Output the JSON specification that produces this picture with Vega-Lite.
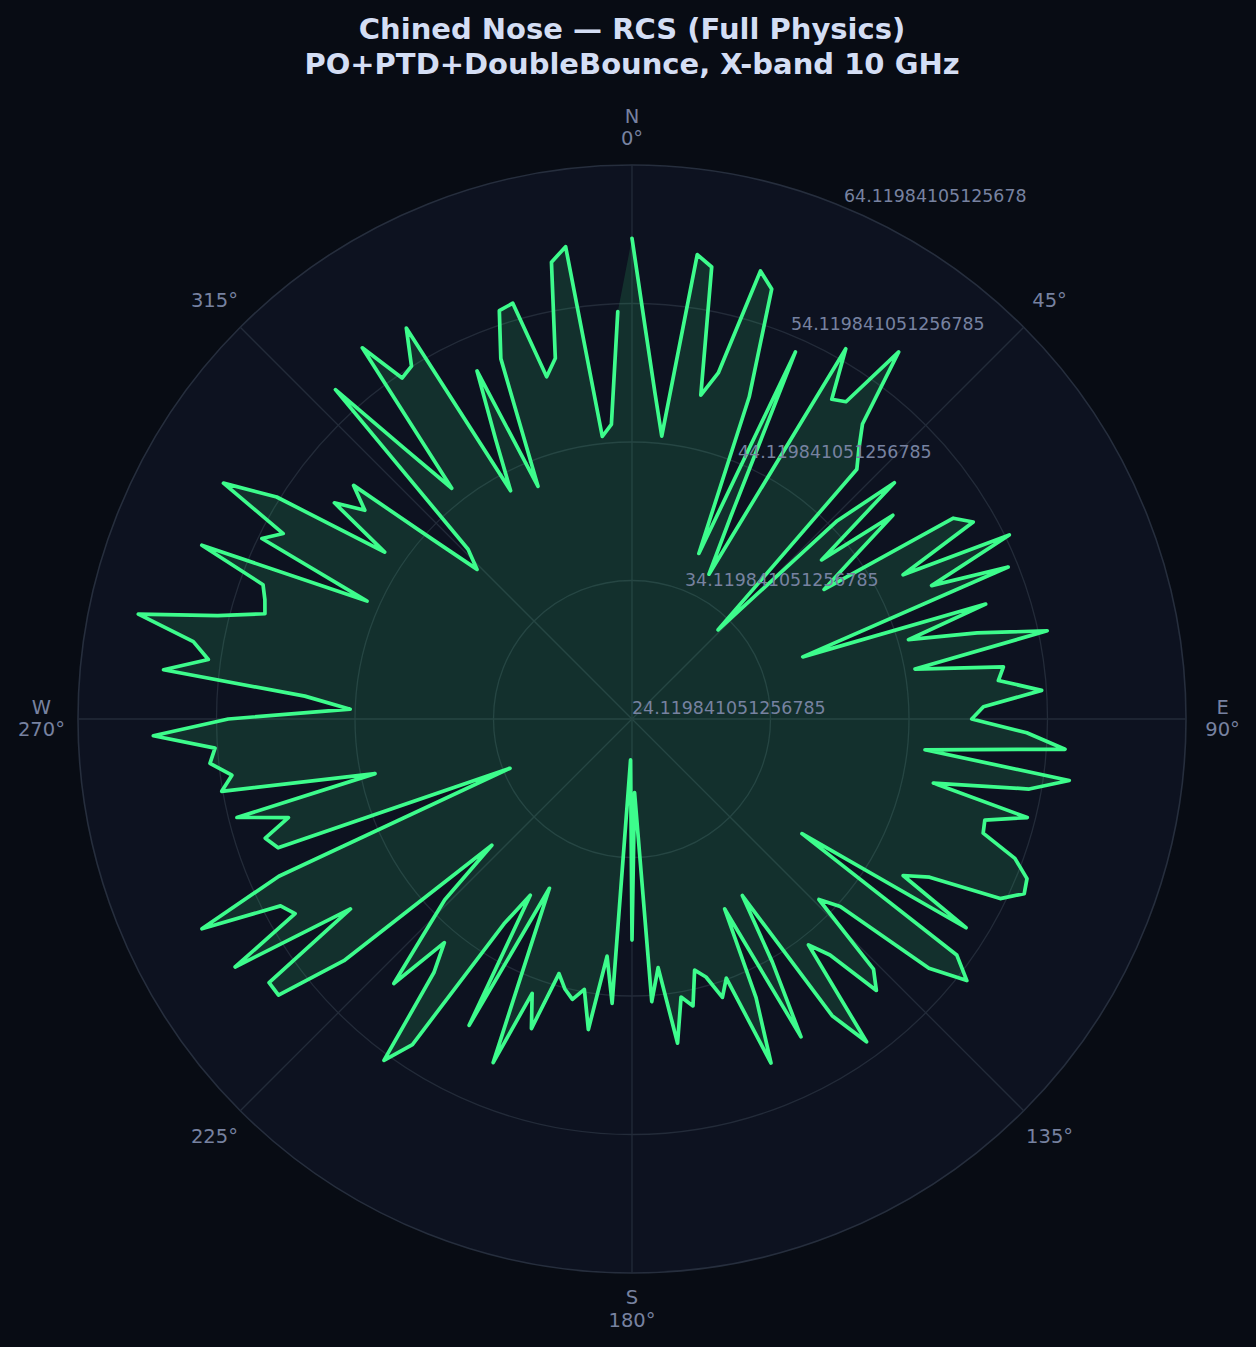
{
  "$schema": "https://vega.github.io/schema/vega-lite/v6.json",
  "description": "Chined Nose RCS polar plot, X-band 10 GHz",
  "width": 1108,
  "height": 1108,
  "autosize": "none",
  "padding": {"left": 78, "top": 165, "right": 70, "bottom": 74},
  "background": "#080c14",
  "config": {"view": {"stroke": null}, "font": "DejaVu Sans"},
  "title": {
    "text": ["Chined Nose — RCS (Full Physics)", "PO+PTD+DoubleBounce, X-band 10 GHz"],
    "font": "DejaVu Sans",
    "fontSize": 29,
    "fontWeight": "bold",
    "color": "#d4def4",
    "lineHeight": 35,
    "anchor": "middle",
    "frame": "group",
    "offset": 27
  },
  "datasets": {
    "rcs": [
      {"a": 0, "v": 58.83}, {"a": 2, "v": 52.21}, {"a": 4, "v": 47.77}, {"a": 6, "v": 44.66},
      {"a": 8, "v": 57.98}, {"a": 10, "v": 57.26}, {"a": 12, "v": 48.02}, {"a": 14, "v": 49.87},
      {"a": 16, "v": 57.77}, {"a": 18, "v": 56.76}, {"a": 20, "v": 48.86}, {"a": 22, "v": 37.01},
      {"a": 24, "v": 53.13}, {"a": 26, "v": 40.37}, {"a": 28, "v": 35.96}, {"a": 30, "v": 54.99},
      {"a": 32, "v": 51.34}, {"a": 34, "v": 51.75}, {"a": 36, "v": 56.88}, {"a": 38, "v": 51.15},
      {"a": 40, "v": 49.61}, {"a": 42, "v": 48.38}, {"a": 44, "v": 33.07}, {"a": 46, "v": 44.73},
      {"a": 48, "v": 49.61}, {"a": 50, "v": 41.99}, {"a": 52, "v": 48.02}, {"a": 54, "v": 43.72},
      {"a": 56, "v": 40.85}, {"a": 58, "v": 51.48}, {"a": 60, "v": 52.57}, {"a": 62, "v": 46.29},
      {"a": 64, "v": 54.43}, {"a": 66, "v": 47.80}, {"a": 68, "v": 53.41}, {"a": 70, "v": 37.24},
      {"a": 72, "v": 50.97}, {"a": 74, "v": 44.89}, {"a": 76, "v": 49.80}, {"a": 78, "v": 54.77},
      {"a": 80, "v": 44.87}, {"a": 82, "v": 51.20}, {"a": 84, "v": 50.72}, {"a": 86, "v": 53.77},
      {"a": 88, "v": 49.51}, {"a": 90, "v": 48.65}, {"a": 92, "v": 52.64}, {"a": 94, "v": 55.46},
      {"a": 96, "v": 45.39}, {"a": 98, "v": 56.00}, {"a": 100, "v": 53.24}, {"a": 102, "v": 46.36},
      {"a": 104, "v": 53.53}, {"a": 106, "v": 50.62}, {"a": 108, "v": 50.78}, {"a": 110, "v": 53.54},
      {"a": 112, "v": 54.88}, {"a": 114, "v": 55.12}, {"a": 116, "v": 53.70}, {"a": 118, "v": 48.45},
      {"a": 120, "v": 46.72}, {"a": 122, "v": 52.56}, {"a": 124, "v": 38.92}, {"a": 126, "v": 53.10},
      {"a": 128, "v": 54.80}, {"a": 130, "v": 52.11}, {"a": 132, "v": 44.35}, {"a": 134, "v": 42.88},
      {"a": 136, "v": 49.22}, {"a": 138, "v": 50.49}, {"a": 140, "v": 46.36}, {"a": 142, "v": 44.81},
      {"a": 144, "v": 52.93}, {"a": 146, "v": 49.96}, {"a": 148, "v": 39.15}, {"a": 150, "v": 44.39},
      {"a": 152, "v": 50.11}, {"a": 154, "v": 39.38}, {"a": 156, "v": 46.14}, {"a": 158, "v": 50.91},
      {"a": 160, "v": 44.03}, {"a": 162, "v": 45.25}, {"a": 164, "v": 43.50}, {"a": 166, "v": 42.81},
      {"a": 168, "v": 45.30}, {"a": 170, "v": 44.51}, {"a": 172, "v": 47.76}, {"a": 174, "v": 42.17},
      {"a": 176, "v": 44.58}, {"a": 178, "v": 29.44}, {"a": 180, "v": 40.08}, {"a": 182, "v": 27.08},
      {"a": 184, "v": 44.70}, {"a": 186, "v": 41.34}, {"a": 188, "v": 46.76}, {"a": 190, "v": 43.94},
      {"a": 192, "v": 44.81}, {"a": 194, "v": 44.19}, {"a": 196, "v": 43.24}, {"a": 198, "v": 47.62},
      {"a": 200, "v": 45.20}, {"a": 202, "v": 50.88}, {"a": 204, "v": 42.19}, {"a": 206, "v": 37.72},
      {"a": 208, "v": 49.17}, {"a": 210, "v": 38.81}, {"a": 212, "v": 41.56}, {"a": 214, "v": 52.47},
      {"a": 216, "v": 54.59}, {"a": 218, "v": 47.35}, {"a": 220, "v": 45.20}, {"a": 222, "v": 49.82},
      {"a": 224, "v": 45.85}, {"a": 226, "v": 42.91}, {"a": 228, "v": 37.74}, {"a": 230, "v": 51.27},
      {"a": 232, "v": 56.51}, {"a": 234, "v": 56.51}, {"a": 236, "v": 48.64}, {"a": 238, "v": 57.91},
      {"a": 240, "v": 52.21}, {"a": 242, "v": 52.86}, {"a": 244, "v": 58.67}, {"a": 246, "v": 52.03},
      {"a": 248, "v": 33.62}, {"a": 250, "v": 51.31}, {"a": 252, "v": 51.96}, {"a": 254, "v": 49.93},
      {"a": 256, "v": 53.52}, {"a": 258, "v": 43.09}, {"a": 260, "v": 54.20}, {"a": 262, "v": 53.29},
      {"a": 264, "v": 54.76}, {"a": 266, "v": 54.30}, {"a": 268, "v": 58.70}, {"a": 270, "v": 53.27},
      {"a": 272, "v": 44.48}, {"a": 274, "v": 47.80}, {"a": 276, "v": 58.13}, {"a": 278, "v": 55.01},
      {"a": 280, "v": 56.28}, {"a": 282, "v": 60.56}, {"a": 284, "v": 54.95}, {"a": 286, "v": 51.69},
      {"a": 288, "v": 51.99}, {"a": 290, "v": 52.47}, {"a": 292, "v": 57.62}, {"a": 294, "v": 45.06},
      {"a": 296, "v": 53.85}, {"a": 298, "v": 52.64}, {"a": 300, "v": 58.18}, {"a": 302, "v": 54.37},
      {"a": 304, "v": 45.66}, {"a": 306, "v": 50.68}, {"a": 308, "v": 48.60}, {"a": 310, "v": 50.36},
      {"a": 312, "v": 43.50}, {"a": 314, "v": 39.67}, {"a": 316, "v": 41.16}, {"a": 318, "v": 56.12},
      {"a": 320, "v": 49.46}, {"a": 322, "v": 45.26}, {"a": 324, "v": 57.25}, {"a": 326, "v": 53.81},
      {"a": 328, "v": 54.16}, {"a": 330, "v": 56.71}, {"a": 332, "v": 42.79}, {"a": 334, "v": 46.57},
      {"a": 336, "v": 51.63}, {"a": 338, "v": 42.24}, {"a": 340, "v": 51.81}, {"a": 342, "v": 55.12},
      {"a": 344, "v": 55.35}, {"a": 346, "v": 49.59}, {"a": 348, "v": 50.75}, {"a": 350, "v": 57.61},
      {"a": 352, "v": 58.56}, {"a": 354, "v": 44.63}, {"a": 356, "v": 45.45}, {"a": 358, "v": 53.55}
    ],
    "rings": [
      {"v": 34.119841051256785},
      {"v": 44.119841051256785},
      {"v": 54.119841051256785},
      {"v": 64.11984105125678}
    ],
    "rlabels": [
      {"v": 24.119841051256785, "t": "24.119841051256785"},
      {"v": 34.119841051256785, "t": "34.119841051256785"},
      {"v": 44.119841051256785, "t": "44.119841051256785"},
      {"v": 54.119841051256785, "t": "54.119841051256785"},
      {"v": 64.11984105125678, "t": "64.11984105125678"}
    ],
    "spokes": [
      {"a": 0, "t": "N\n0°"},
      {"a": 45, "t": "45°"},
      {"a": 90, "t": "E\n90°"},
      {"a": 135, "t": "135°"},
      {"a": 180, "t": "S\n180°"},
      {"a": 225, "t": "225°"},
      {"a": 270, "t": "W\n270°"},
      {"a": 315, "t": "315°"}
    ]
  },
  "layer": [
    {
      "data": {"name": "rings"},
      "transform": [
        {"filter": "datum.v > 60"},
        {"calculate": "(datum.v - 24.119841051256785) / 40", "as": "r"},
        {"calculate": "0", "as": "o"}
      ],
      "mark": {"type": "point", "shape": "circle", "filled": true, "fill": "#0d1220", "fillOpacity": 1, "stroke": "#262e3d", "strokeWidth": 1.6, "opacity": 1},
      "encoding": {
        "x": {"field": "o", "type": "quantitative", "scale": {"domain": [-1, 1]}, "axis": null},
        "y": {"field": "o", "type": "quantitative", "scale": {"domain": [-1, 1]}, "axis": null},
        "size": {"field": "r", "type": "quantitative", "scale": {"type": "pow", "exponent": 2, "zero": true, "domain": [0, 1], "range": [0, 1227664]}, "legend": null}
      }
    },
    {
      "data": {"name": "rings"},
      "transform": [
        {"filter": "datum.v < 60"},
        {"calculate": "(datum.v - 24.119841051256785) / 40", "as": "r"},
        {"calculate": "0", "as": "o"}
      ],
      "mark": {"type": "point", "shape": "circle", "filled": false, "stroke": "#232b39", "strokeWidth": 1.3, "opacity": 1},
      "encoding": {
        "x": {"field": "o", "type": "quantitative"},
        "y": {"field": "o", "type": "quantitative"},
        "size": {"field": "r", "type": "quantitative"}
      }
    },
    {
      "data": {"name": "spokes"},
      "transform": [
        {"calculate": "0", "as": "o"},
        {"calculate": "sin(datum.a * PI / 180)", "as": "ex"},
        {"calculate": "cos(datum.a * PI / 180)", "as": "ey"}
      ],
      "mark": {"type": "rule", "stroke": "#232b39", "strokeWidth": 1.3},
      "encoding": {
        "x": {"field": "o", "type": "quantitative"},
        "y": {"field": "o", "type": "quantitative"},
        "x2": {"field": "ex"},
        "y2": {"field": "ey"}
      }
    },
    {
      "data": {"name": "rcs"},
      "transform": [
        {"calculate": "(datum.v - 24.119841051256785) / 40", "as": "r"},
        {"calculate": "datum.r * sin(datum.a * PI / 180)", "as": "px"},
        {"calculate": "datum.r * cos(datum.a * PI / 180)", "as": "py"}
      ],
      "mark": {"type": "line", "fill": "#3dfc8c", "fillOpacity": 0.13, "strokeOpacity": 0},
      "encoding": {
        "x": {"field": "px", "type": "quantitative"},
        "y": {"field": "py", "type": "quantitative"},
        "order": {"field": "a", "type": "quantitative"}
      }
    },
    {
      "data": {"name": "rcs"},
      "transform": [
        {"calculate": "(datum.v - 24.119841051256785) / 40", "as": "r"},
        {"calculate": "datum.r * sin(datum.a * PI / 180)", "as": "px"},
        {"calculate": "datum.r * cos(datum.a * PI / 180)", "as": "py"}
      ],
      "mark": {"type": "line", "stroke": "#3dfc8c", "strokeWidth": 3.7, "strokeJoin": "round", "strokeCap": "round"},
      "encoding": {
        "x": {"field": "px", "type": "quantitative"},
        "y": {"field": "py", "type": "quantitative"},
        "order": {"field": "a", "type": "quantitative"}
      }
    },
    {
      "data": {"name": "rlabels"},
      "transform": [
        {"calculate": "(datum.v - 24.119841051256785) / 40", "as": "r"},
        {"calculate": "datum.r * sin(22.5 * PI / 180)", "as": "lx"},
        {"calculate": "datum.r * cos(22.5 * PI / 180)", "as": "ly"}
      ],
      "mark": {"type": "text", "align": "left", "baseline": "bottom", "dy": -1, "fontSize": 17.4, "color": "#7782a0"},
      "encoding": {
        "x": {"field": "lx", "type": "quantitative"},
        "y": {"field": "ly", "type": "quantitative"},
        "text": {"field": "t", "type": "nominal"}
      }
    },
    {
      "data": {"name": "spokes"},
      "transform": [
        {"filter": "datum.a % 90 != 0"},
        {"calculate": "1.066 * sin(datum.a * PI / 180)", "as": "lx"},
        {"calculate": "1.066 * cos(datum.a * PI / 180)", "as": "ly"}
      ],
      "mark": {"type": "text", "align": "center", "baseline": "middle", "fontSize": 19.5, "color": "#7782a0"},
      "encoding": {
        "x": {"field": "lx", "type": "quantitative"},
        "y": {"field": "ly", "type": "quantitative"},
        "text": {"field": "t", "type": "nominal"}
      }
    },
    {
      "data": {"name": "spokes"},
      "transform": [
        {"filter": "datum.a % 90 == 0"},
        {"calculate": "1.066 * sin(datum.a * PI / 180)", "as": "lx"},
        {"calculate": "1.066 * cos(datum.a * PI / 180)", "as": "ly"}
      ],
      "mark": {"type": "text", "align": "center", "baseline": "middle", "lineBreak": "\n", "lineHeight": 22.5, "dy": -11.5, "fontSize": 19.5, "color": "#7782a0"},
      "encoding": {
        "x": {"field": "lx", "type": "quantitative"},
        "y": {"field": "ly", "type": "quantitative"},
        "text": {"field": "t", "type": "nominal"}
      }
    }
  ]
}
